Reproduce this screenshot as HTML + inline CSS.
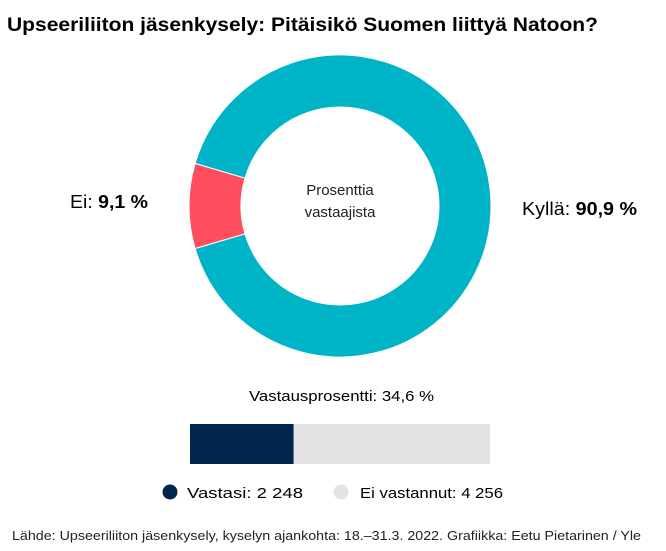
<!DOCTYPE html>
<html><head><meta charset="utf-8">
<style>
body{margin:0;background:#fff;width:666px;height:551px;overflow:hidden;font-family:"Liberation Sans",sans-serif;color:#000}
svg{display:block}
</style></head>
<body>
<svg id="chart" width="666" height="551">
  <text x="7" y="31" font-size="19" font-weight="bold" textLength="591" lengthAdjust="spacingAndGlyphs">Upseeriliiton jäsenkysely: Pitäisikö Suomen liittyä Natoon?</text>
  <g id="donut"></g>
  <text x="340" y="195" font-size="15" text-anchor="middle" fill="#222">Prosenttia</text>
  <text x="340" y="217" font-size="15" text-anchor="middle" fill="#222">vastaajista</text>
  <text x="70" y="208" font-size="18" textLength="78" lengthAdjust="spacingAndGlyphs">Ei: <tspan font-weight="bold" id="eiVal">9,1 %</tspan></text>
  <text x="522" y="215" font-size="18" textLength="115" lengthAdjust="spacingAndGlyphs">Kyllä: <tspan font-weight="bold" id="kyVal">90,9 %</tspan></text>
  <text x="249" y="401" font-size="15" textLength="185" lengthAdjust="spacingAndGlyphs">Vastausprosentti: 34,6 %</text>
  <g id="bar"></g>
  <circle cx="170" cy="492" r="7.5" fill="#00264d"></circle>
  <text x="187" y="498" font-size="15" textLength="116" lengthAdjust="spacingAndGlyphs">Vastasi: 2 248</text>
  <circle cx="341" cy="492" r="7.5" fill="#e3e3e3"></circle>
  <text x="360" y="498" font-size="15" textLength="143" lengthAdjust="spacingAndGlyphs">Ei vastannut: 4 256</text>
  <text x="12" y="540" font-size="13" fill="#222" textLength="629" lengthAdjust="spacingAndGlyphs">Lähde: Upseeriliiton jäsenkysely, kyselyn ajankohta: 18.–31.3. 2022. Grafiikka: Eetu Pietarinen / Yle</text>
</svg>
<script>
const categories = ["Ei", "Kyllä"];
const shares = [9.1, 90.9];
const colors = ["#ff4f5e", "#00b4c8"];
const barLabels = ["Vastasi", "Ei vastannut"];
const barValues = [2248, 4256];
const barColors = ["#00264d", "#e3e3e3"];

const NS = "http://www.w3.org/2000/svg";
const cx = 340, cy = 206, R = 151, r = 99;
const total = shares.reduce((a,b)=>a+b,0);
let start = 270 - shares[0]/total*180;
function pt(rad, deg){const a=deg*Math.PI/180;return [cx+rad*Math.sin(a), cy-rad*Math.cos(a)];}
const donut = document.getElementById("donut");
shares.forEach((v,i)=>{
  const sweep = v/total*360, end = start+sweep, large = sweep>180?1:0;
  const [x1,y1]=pt(R,start),[x2,y2]=pt(R,end),[x3,y3]=pt(r,end),[x4,y4]=pt(r,start);
  const p=document.createElementNS(NS,"path");
  p.setAttribute("d",`M${x1},${y1}A${R},${R} 0 ${large} 1 ${x2},${y2}L${x3},${y3}A${r},${r} 0 ${large} 0 ${x4},${y4}Z`);
  p.setAttribute("fill",colors[i]);p.setAttribute("stroke","#fff");p.setAttribute("stroke-width","1");
  
  
  donut.appendChild(p);
  start = end;
});
const bx=190, by=424, bw=300, bh=40;
const btot = barValues.reduce((a,b)=>a+b,0);
let x = bx;
const bar = document.getElementById("bar");
barValues.forEach((v,i)=>{
  const w = v/btot*bw;
  const rc=document.createElementNS(NS,"rect");
  rc.setAttribute("x",x);rc.setAttribute("y",by);rc.setAttribute("width",w);rc.setAttribute("height",bh);
  rc.setAttribute("fill",barColors[i]);
  
  
  bar.appendChild(rc);
  x += w;
});
</script>
</body></html>
